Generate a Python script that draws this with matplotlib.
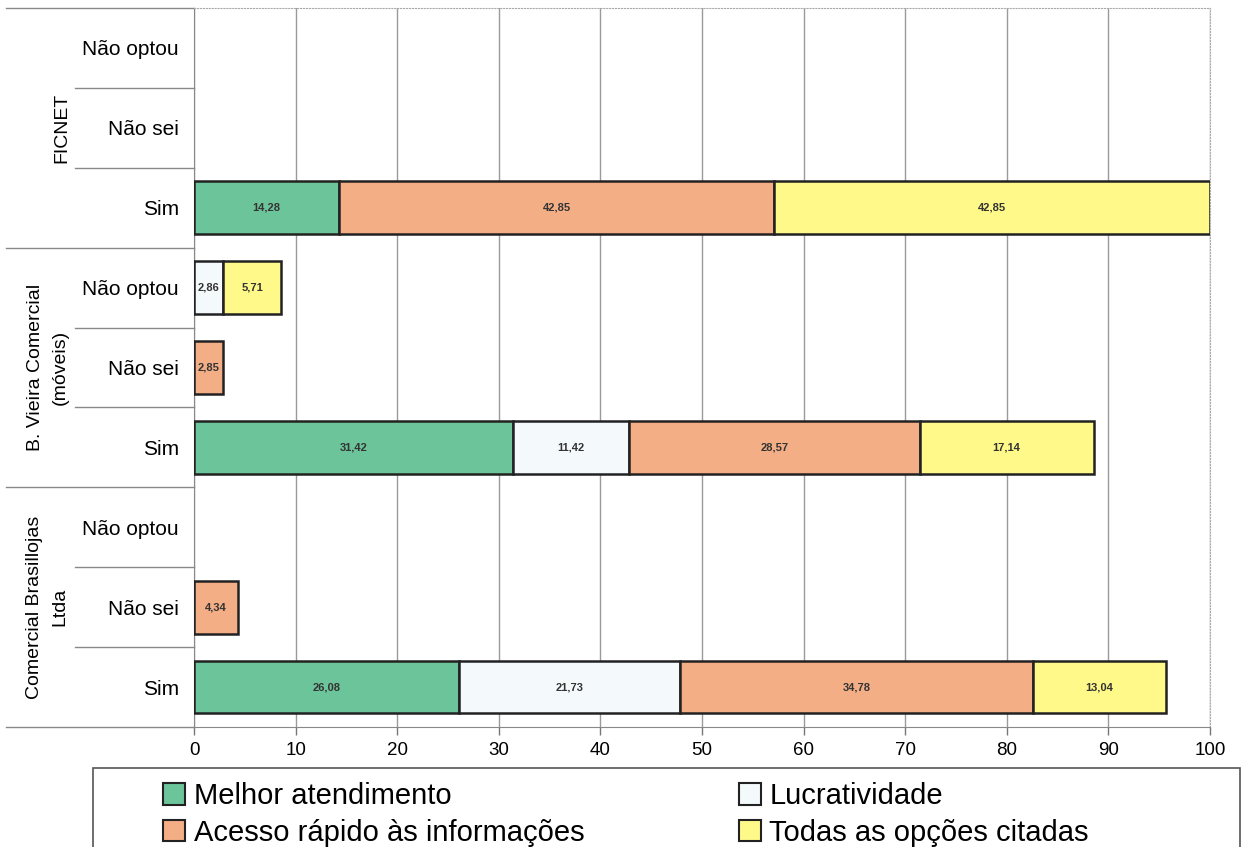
import numpy as np
import matplotlib.pyplot as plt
from matplotlib.patches import Patch, Rectangle

plt.rcParams['font.family'] = ['Liberation Sans', 'DejaVu Sans']

# linhas de cima para baixo: empresa x resposta
empresas = ['FICNET', 'B. Vieira Comercial\n(móveis)', 'Comercial Brasillojas\nLtda']
respostas = ['Não optou', 'Não sei', 'Sim']
series = ['Melhor atendimento', 'Lucratividade',
          'Acesso rápido às informações', 'Todas as opções citadas']

melhor = [0, 0, 14.28, 0, 0, 31.42, 0, 0, 26.08]
lucro = [0, 0, 0, 2.86, 0, 11.42, 0, 0, 21.73]
acesso = [0, 0, 42.85, 0, 2.85, 28.57, 0, 4.34, 34.78]
todas = [0, 0, 42.85, 5.71, 0, 17.14, 0, 0, 13.04]

cores = ['#6cc49a', '#f4f9fb', '#f4ae86', '#fff98a']

W, H = 1244, 847
fig = plt.figure(figsize=(W / 100, H / 100), dpi=100)
ax = fig.add_axes([194 / W, 1 - 727 / H, (1210 - 194) / W, (727 - 8) / H])

y = np.arange(9)
left = np.zeros(9)
handles = []
for vals, cor, nome in zip([melhor, lucro, acesso, todas], cores, series):
    vals = np.array(vals, dtype=float)
    m = vals > 0
    bars = ax.barh(y[m], vals[m], left=left[m], height=0.66, color=cor,
                   edgecolor='#222222', linewidth=1.8, zorder=3)
    for b, v in zip(bars, vals[m]):
        ax.text(b.get_x() + b.get_width() / 2, b.get_y() + b.get_height() / 2,
                f'{v:.2f}'.replace('.', ','), ha='center', va='center',
                fontsize=8, fontweight='bold', color='#333333', zorder=4)
    left += vals
    handles.append(Patch(facecolor=cor, edgecolor='#222222', linewidth=1.5, label=nome))

ax.set_xlim(0, 100)
ax.set_ylim(8.5, -0.5)
ax.set_xticks(range(0, 101, 10))
ax.tick_params(axis='x', length=6, width=1, color='#777777', labelsize=13.5, pad=5)
ax.set_yticks(y)
ax.set_yticklabels(respostas * 3, fontsize=15)
ax.tick_params(axis='y', length=0, pad=11)
ax.grid(axis='x', color='#9a9a9a', linewidth=1)
ax.set_axisbelow(True)
for s in ['left', 'bottom']:
    ax.spines[s].set_color('#888888')
for s in ['top', 'right']:
    ax.spines[s].set_color('#aaaaaa')
    ax.spines[s].set_linestyle(':')

# divisórias da tabela à esquerda
tr = ax.get_yaxis_transform()
for yy in [0.5, 1.5, 3.5, 4.5, 6.5, 7.5]:
    ax.plot([(75 - 194) / 1016, 0], [yy, yy], transform=tr, clip_on=False,
            color='#888888', lw=1)
for yy in [-0.5, 2.5, 5.5, 8.5]:
    ax.plot([(6 - 194) / 1016, 0], [yy, yy], transform=tr, clip_on=False,
            color='#888888', lw=1)

for nome, yc, xc in zip(empresas, [1, 4, 7], [62, 48, 47]):
    ax.text((xc - 194) / 1016, yc, nome, transform=tr, rotation=90,
            ha='center', va='center', multialignment='center', fontsize=14,
            linespacing=1.6)

# legenda
fig.add_artist(Rectangle((93 / W, -0.01), (1240 - 93) / W, 1 - 768 / H + 0.01,
                         transform=fig.transFigure, fill=False,
                         edgecolor='#555555', linewidth=1.2))
ordem = [0, 2, 1, 3]
fig.legend([handles[i] for i in ordem], [series[i] for i in ordem], ncol=2,
           loc='upper left', bbox_to_anchor=(163 / W, 1 - 782 / H),
           frameon=False, fontsize=21, handlelength=0.75, handleheight=0.75,
           handletextpad=0.3, columnspacing=5.3, labelspacing=0.3,
           borderpad=0, borderaxespad=0)

fig.savefig('out.png', dpi=100)
